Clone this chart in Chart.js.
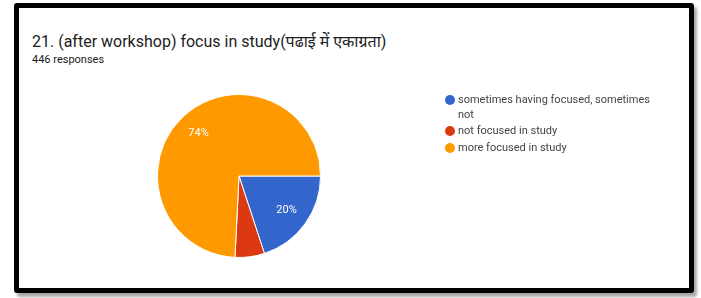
<!DOCTYPE html>
<html>
<head>
<meta charset="utf-8">
<script src="https://cdn.jsdelivr.net/npm/chart.js@4"></script>
<style>
    html, body {margin: 0; padding: 0; background: #fff;}
    body {width: 701px; height: 298px; position: relative; overflow: hidden; font-family: Roboto, "Noto Sans", sans-serif;}
    .frame {position: absolute; left: 14px; top: 3px; width: 670px; height: 280px; border: 5px solid #000; border-radius: 3px; box-shadow: 3px 4px 3px rgba(0, 0, 0, 0.35); background: #fff;}
    .title {position: absolute; left: 32px; top: 30px; font-size: 16px; color: #212121; white-space: nowrap;}
    .sub {position: absolute; left: 32px; top: 53px; font-size: 11px; color: #212121;}
    canvas {position: absolute; left: 0; top: 0;}
</style>
</head>
<body>
<div class="frame"></div>
<div class="title">21. (after workshop) focus in study(पढाई में एकाग्रता)</div>
<div class="sub">446 responses</div>
<canvas id="pie" width="701" height="298"></canvas>
<script>
(function () {
    const categories = ['sometimes having focused, sometimes not', 'not focused in study', 'more focused in study'];
    const legendLines = [['sometimes having focused, sometimes', 'not'], ['not focused in study'], ['more focused in study']];
    const counts = [89, 26, 331];
    const colors = ['#3366cc', '#dc3912', '#ff9900'];

    const total = counts.reduce((a, b) => a + b, 0);

    const sliceLabels = {
        id: 'sliceLabels',
        afterDatasetsDraw(chart) {
            const ctx = chart.ctx;
            const meta = chart.getDatasetMeta(0);
            ctx.save();
            ctx.fillStyle = '#ffffff';
            ctx.font = '11px Roboto, sans-serif';
            ctx.textAlign = 'center';
            ctx.textBaseline = 'middle';
            meta.data.forEach((arc, i) => {
                const pct = counts[i] / total * 100;
                if (pct < 10) {
                    return;
                }
                const mid = (arc.startAngle + arc.endAngle) / 2;
                const r = arc.outerRadius * 0.72;
                ctx.fillText(pct.toFixed(0) + '%', arc.x + Math.cos(mid) * r, arc.y + Math.sin(mid) * r);
            });
            ctx.restore();
        }
    };

    const sideLegend = {
        id: 'sideLegend',
        afterDraw(chart) {
            const ctx = chart.ctx;
            ctx.save();
            ctx.font = '11px Roboto, sans-serif';
            ctx.textBaseline = 'middle';
            let y = 100;
            legendLines.forEach((lines, i) => {
                ctx.fillStyle = colors[i];
                ctx.beginPath();
                ctx.arc(450, y, 5, 0, Math.PI * 2);
                ctx.fill();
                ctx.fillStyle = '#444444';
                lines.forEach((line, j) => {
                    ctx.fillText(line, 458, y + j * 15);
                });
                y += lines.length * 14 + 3;
            });
            ctx.restore();
        }
    };

    new Chart(document.getElementById('pie'), {
        type: 'pie',
        data: {
            labels: categories,
            datasets: [{
                data: counts,
                backgroundColor: colors,
                borderColor: '#ffffff',
                borderWidth: 1
            }]
        },
        options: {
            responsive: false,
            animation: false,
            rotation: 90,
            layout: {padding: {left: 157, right: 380, top: 94, bottom: 40}},
            plugins: {
                legend: {display: false},
                tooltip: {enabled: false}
            }
        },
        plugins: [sliceLabels, sideLegend]
    });
})();
</script>
</body>
</html>
